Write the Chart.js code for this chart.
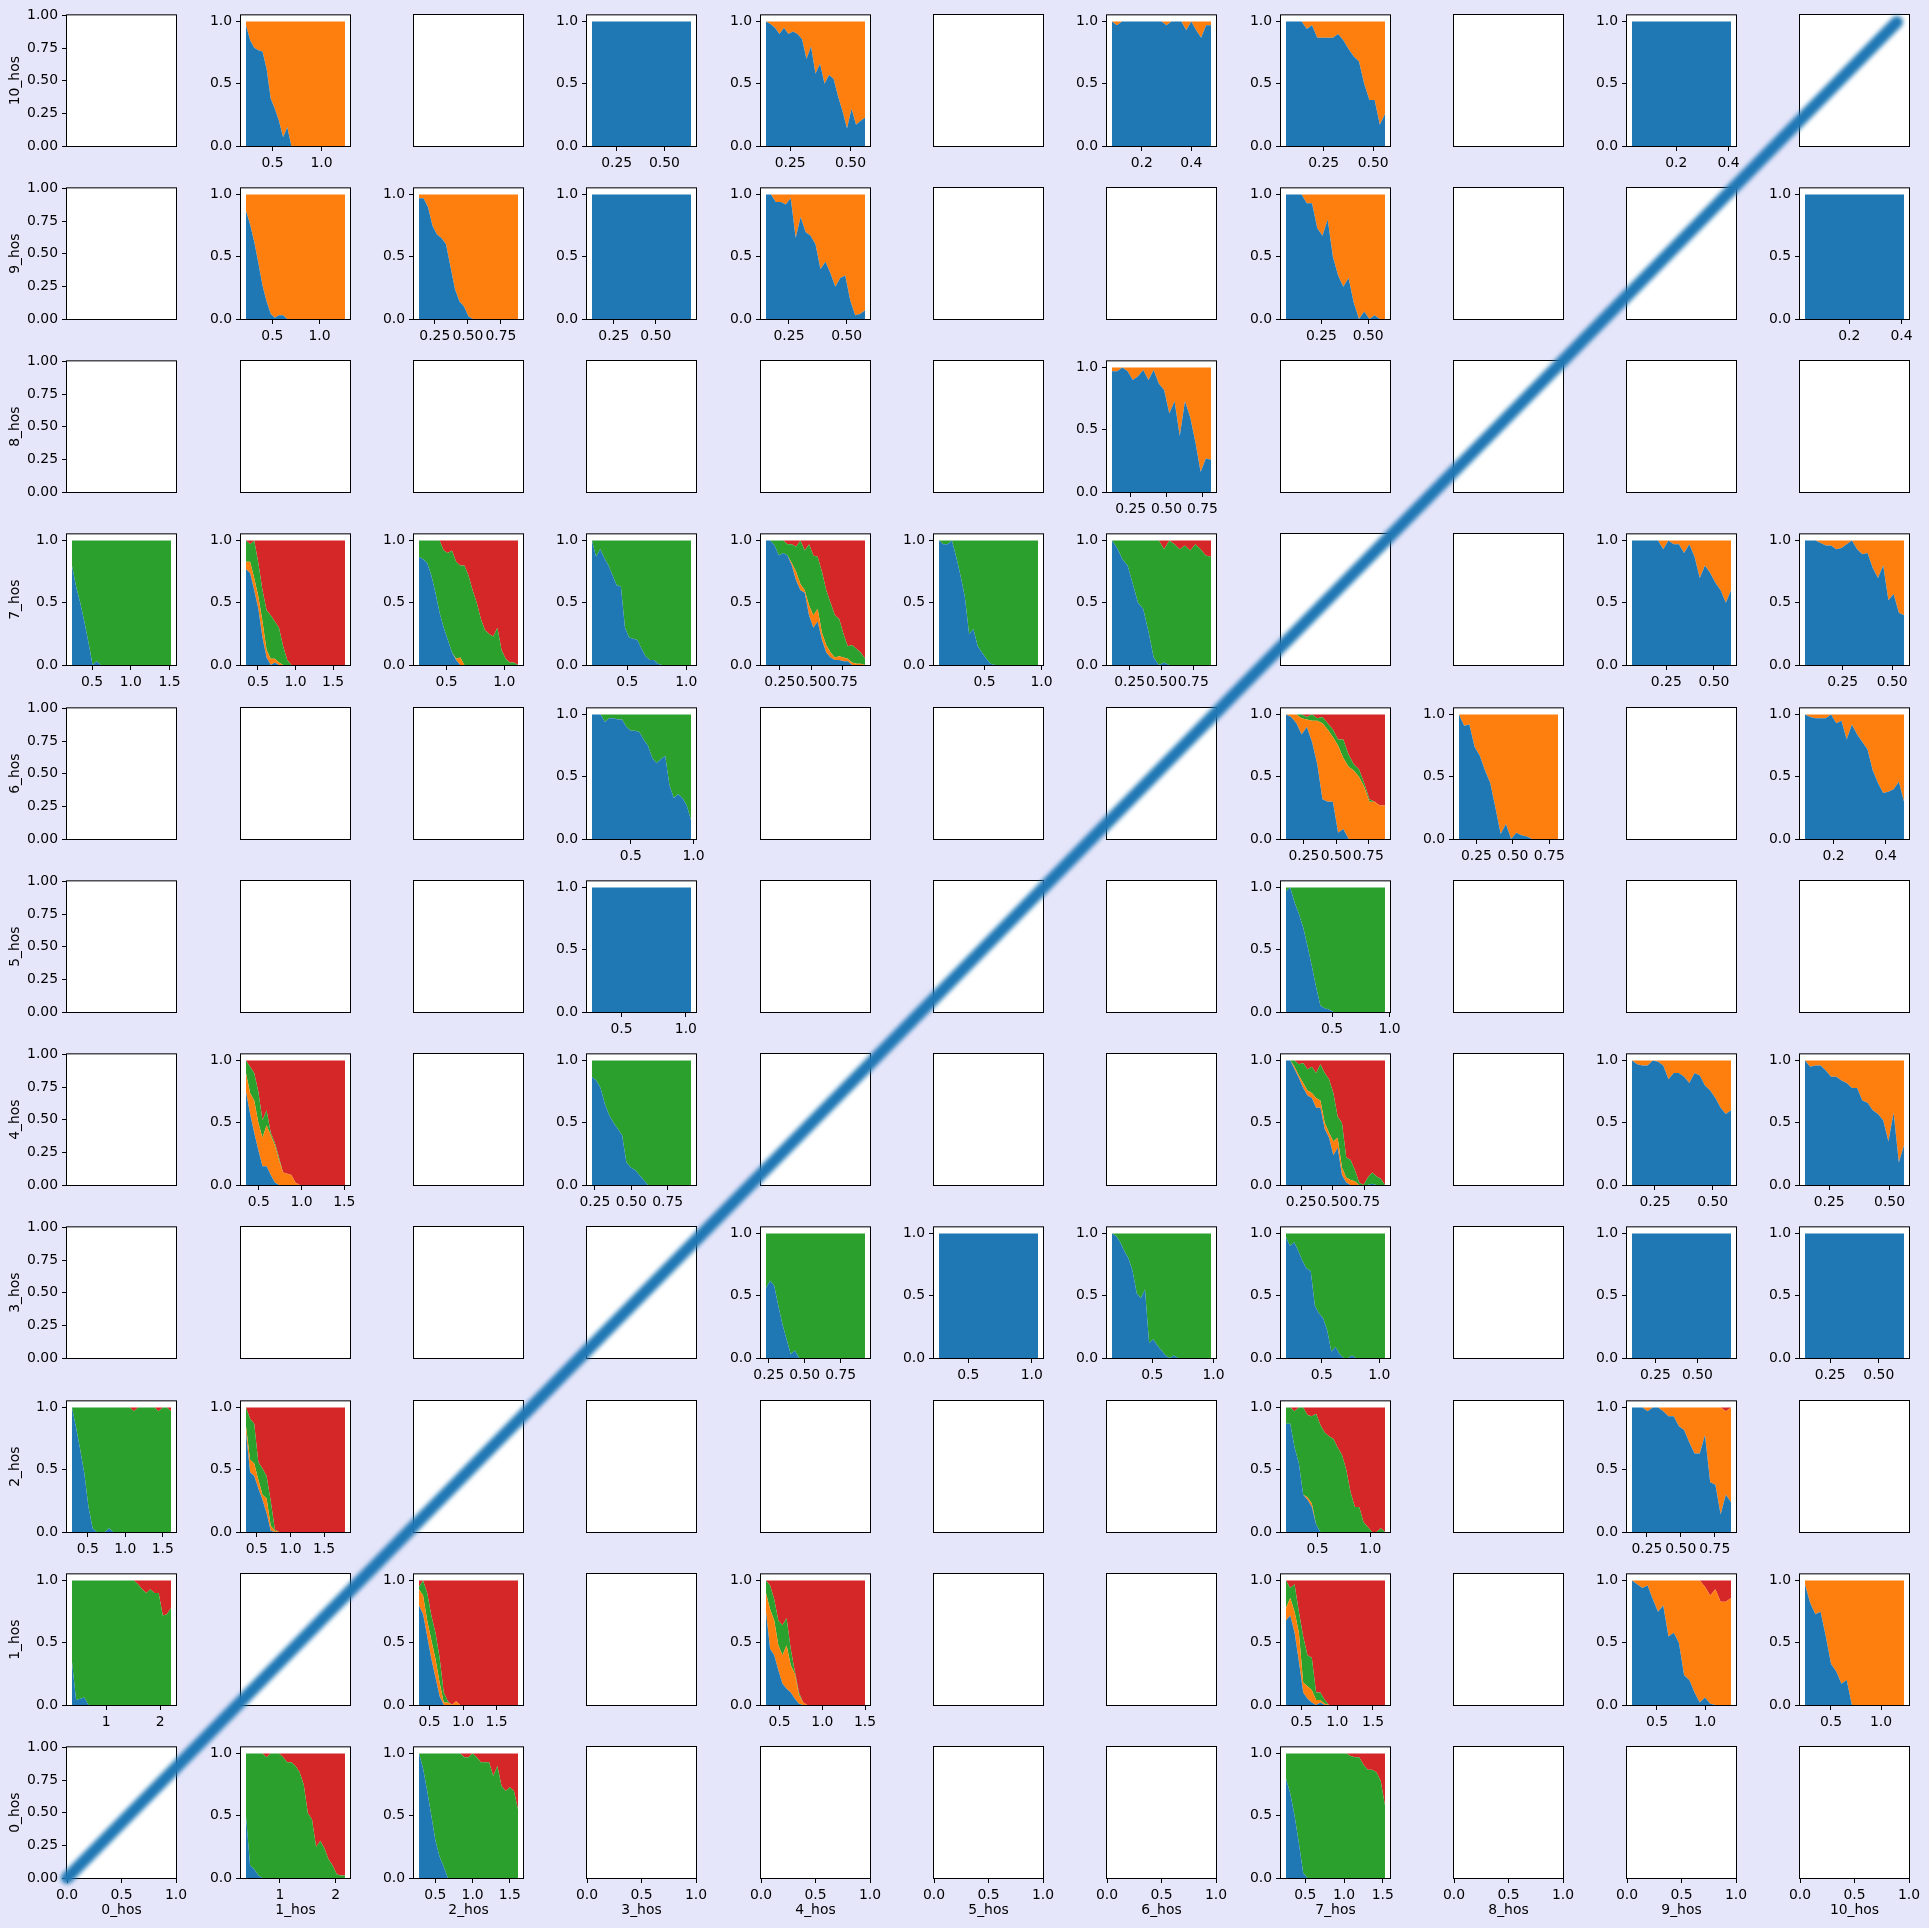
<!DOCTYPE html>
<html>
<head>
<meta charset="utf-8">
<script src="https://cdn.jsdelivr.net/npm/chart.js@4.4.1/dist/chart.umd.min.js"></script>
<style>
  html, body { margin: 0; padding: 0; background: #e6e6fa; }
  #fig { position: relative; width: 1929px; height: 1928px; overflow: hidden; background: #e6e6fa; }
  #fig canvas { position: absolute; }
  #diag { filter: blur(2px); pointer-events: none; }
</style>
</head>
<body>
<div id="fig"></div>
<script>
// tab10 C0..C3, one per class
const PALETTE = ["#1f77b4", "#ff7f0e", "#2ca02c", "#d62728"];

const rowNames = ["10_hos", "9_hos", "8_hos", "7_hos", "6_hos", "5_hos", "4_hos", "3_hos", "2_hos", "1_hos", "0_hos"];
const colNames = ["0_hos", "1_hos", "2_hos", "3_hos", "4_hos", "5_hos", "6_hos", "7_hos", "8_hos", "9_hos", "10_hos"];

// each panel: x span of the data, x tick labels, classes stacked bottom->top,
// cumulative edges (top of each class except the last, which runs up to 1)
// ---- 10_hos
const h10_1 = { span: [0.23, 1.24], ticks: ["0.5", "1.0"], layers: [0, 1],
  edges: [[0.97,0.85,0.79,0.77,0.76,0.62,0.38,0.3,0.2,0.07,0.15,0,0,0,0,0,0,0,0,0,0,0,0,0,0]] };
const h10_3 = { span: [0.12, 0.64], ticks: ["0.25", "0.50"], layers: [0],
  edges: [[1,1,1,1,1,1,1,1,1,1]] };
const h10_4 = { span: [0.15, 0.56], ticks: ["0.25", "0.50"], layers: [0, 1],
  edges: [[1,0.98,0.95,0.9,0.95,0.9,0.92,0.9,0.86,0.7,0.8,0.58,0.66,0.5,0.57,0.54,0.4,0.28,0.14,0.3,0.17,0.2,0.23]] };
const h10_6 = { span: [0.08, 0.48], ticks: ["0.2", "0.4"], layers: [0, 1],
  edges: [[1,0.97,1,1,1,1,1,1,1,1,1,0.97,1,1,1,0.93,1,0.93,0.87,0.97,0.97]] };
const h10_7 = { span: [0.06, 0.56], ticks: ["0.25", "0.50"], layers: [0, 1],
  edges: [[1,1,1,1,0.94,0.97,0.87,0.87,0.87,0.87,0.9,0.85,0.78,0.72,0.68,0.5,0.37,0.37,0.17,0.26]] };
const h10_9 = { span: [0.03, 0.41], ticks: ["0.2", "0.4"], layers: [0],
  edges: [[1,1,1,1,1,1,1,1,1,1]] };

// ---- 9_hos
const h9_1 = { span: [0.22, 1.27], ticks: ["0.5", "1.0"], layers: [0, 1],
  edges: [[0.87,0.76,0.62,0.45,0.27,0.14,0.04,0.01,0.03,0.03,0,0,0,0,0,0,0,0,0,0,0,0,0,0,0]] };
const h9_2 = { span: [0.13, 0.88], ticks: ["0.25", "0.50", "0.75"], layers: [0, 1],
  edges: [[0.97,0.97,0.9,0.75,0.68,0.65,0.6,0.42,0.24,0.14,0.1,0.02,0,0,0,0,0,0,0,0,0,0,0]] };
const h9_3 = { span: [0.12, 0.71], ticks: ["0.25", "0.50"], layers: [0],
  edges: [[1,1,1,1,1,1,1,1,1,1]] };
const h9_4 = { span: [0.15, 0.58], ticks: ["0.25", "0.50"], layers: [0, 1],
  edges: [[1,1,0.94,0.94,0.92,0.97,0.65,0.82,0.7,0.67,0.6,0.4,0.46,0.37,0.26,0.33,0.35,0.15,0.03,0.04,0.07]] };
const h9_7 = { span: [0.06, 0.59], ticks: ["0.25", "0.50"], layers: [0, 1],
  edges: [[1,1,1,1,0.93,0.93,0.73,0.67,0.8,0.5,0.35,0.26,0.33,0.13,0,0.06,0,0.03,0,0]] };
const h9_10 = { span: [0.03, 0.41], ticks: ["0.2", "0.4"], layers: [0],
  edges: [[1,1,1,1,1,1,1,1,1,1]] };

// ---- 8_hos
const h8_6 = { span: [0.12, 0.81], ticks: ["0.25", "0.50", "0.75"], layers: [0, 1],
  edges: [[0.97,0.97,1,0.97,0.9,0.93,0.98,0.9,0.98,0.87,0.82,0.63,0.73,0.45,0.73,0.6,0.4,0.16,0.27,0.26]] };

// ---- 7_hos
const h7_0 = { span: [0.24, 1.52], ticks: ["0.5", "1.0", "1.5"], layers: [0, 2],
  edges: [[0.8,0.63,0.5,0.35,0.18,0,0.03,0,0,0,0,0,0,0,0,0,0,0,0,0,0,0,0,0,0]] };
const h7_1 = { span: [0.34, 1.66], ticks: ["0.5", "1.0", "1.5"], layers: [0, 1, 2, 3],
  edges: [
    [0.77,0.74,0.6,0.45,0.22,0.06,0,0.02,0,0,0,0,0,0,0,0,0,0,0,0,0,0,0,0,0],
    [0.83,0.83,0.7,0.55,0.35,0.12,0.05,0.05,0.02,0,0,0,0,0,0,0,0,0,0,0,0,0,0,0,0],
    [1,0.97,1,0.82,0.6,0.44,0.4,0.35,0.3,0.15,0.04,0,0,0,0,0,0,0,0,0,0,0,0,0,0]] };
const h7_2 = { span: [0.26, 1.12], ticks: ["0.5", "1.0"], layers: [0, 1, 2, 3],
  edges: [
    [0.87,0.85,0.82,0.72,0.58,0.42,0.3,0.2,0.1,0.04,0,0,0,0,0,0,0,0,0,0,0,0,0,0,0],
    [0.87,0.85,0.82,0.72,0.58,0.42,0.3,0.2,0.1,0.05,0.06,0,0,0,0,0,0,0,0,0,0,0,0,0,0],
    [1,1,1,1,1,1,0.92,0.9,0.92,0.83,0.8,0.8,0.72,0.6,0.5,0.37,0.28,0.25,0.23,0.3,0.12,0.05,0.02,0.02,0]] };
const h7_3 = { span: [0.2, 1.04], ticks: ["0.5", "1.0"], layers: [0, 2],
  edges: [[1,0.87,0.93,0.86,0.8,0.72,0.64,0.63,0.3,0.22,0.21,0.2,0.13,0.07,0.04,0.04,0.01,0,0,0,0,0,0,0,0]] };
const h7_4 = { span: [0.14, 0.93], ticks: ["0.25", "0.50", "0.75"], layers: [0, 1, 2, 3],
  edges: [
    [1,1,0.96,0.88,0.9,0.88,0.8,0.68,0.6,0.58,0.4,0.3,0.35,0.2,0.1,0.06,0.04,0.04,0.03,0.03,0,0,0,0],
    [1,1,0.96,0.88,0.9,0.88,0.82,0.75,0.65,0.6,0.48,0.4,0.45,0.26,0.16,0.1,0.06,0.07,0.06,0.05,0.02,0.01,0.01,0],
    [1,1,1,1,1,0.97,0.97,0.95,1,0.92,0.97,0.88,0.87,0.75,0.6,0.5,0.4,0.37,0.25,0.15,0.16,0.13,0.1,0.05]] };
const h7_5 = { span: [0.1, 0.97], ticks: ["0.5", "1.0"], layers: [0, 2],
  edges: [[1,0.97,0.97,1,0.87,0.72,0.55,0.25,0.29,0.15,0.1,0.05,0.01,0,0,0,0,0,0,0,0,0,0,0]] };
const h7_6 = { span: [0.11, 0.89], ticks: ["0.25", "0.50", "0.75"], layers: [0, 2, 3],
  edges: [
    [1,0.94,0.85,0.8,0.65,0.5,0.45,0.27,0.06,0,0.02,0,0,0,0,0,0,0,0,0],
    [1,1,1,1,1,1,1,1,1,1,0.93,1,0.97,0.93,0.96,0.92,0.97,0.93,0.88,0.87]] };
const h7_9 = { span: [0.07, 0.59], ticks: ["0.25", "0.50"], layers: [0, 1],
  edges: [[1,1,1,1,1,1,0.93,1,0.97,0.97,0.9,0.97,0.87,0.7,0.8,0.74,0.66,0.6,0.5,0.6]] };
const h7_10 = { span: [0.06, 0.56], ticks: ["0.25", "0.50"], layers: [0, 1],
  edges: [[1,1,1,0.98,0.96,0.96,0.93,0.94,0.97,1,0.93,0.89,0.9,0.78,0.7,0.8,0.52,0.57,0.42,0.4]] };

// ---- 6_hos
const h6_3 = { span: [0.19, 0.98], ticks: ["0.5", "1.0"], layers: [0, 2],
  edges: [[1,1,1,0.94,0.97,0.97,0.96,0.96,0.9,0.87,0.87,0.86,0.8,0.75,0.65,0.61,0.64,0.67,0.43,0.33,0.36,0.33,0.27,0.15]] };
const h6_7 = { span: [0.11, 0.88], ticks: ["0.25", "0.50", "0.75"], layers: [0, 1, 2, 3],
  edges: [
    [1,0.98,0.93,0.84,0.9,0.78,0.6,0.32,0.3,0.3,0.05,0.08,0,0,0,0,0,0,0,0],
    [1,1,1,0.97,0.96,0.95,0.95,0.93,0.88,0.82,0.75,0.65,0.58,0.55,0.5,0.42,0.3,0.3,0.27,0.27],
    [1,1,1,1,0.98,1,0.97,0.98,0.93,0.88,0.8,0.8,0.68,0.6,0.56,0.45,0.32,0.3,0.27,0.27]] };
const h6_8 = { span: [0.13, 0.81], ticks: ["0.25", "0.50", "0.75"], layers: [0, 1],
  edges: [[1,0.91,0.92,0.74,0.67,0.55,0.45,0.25,0.04,0.12,0,0.05,0.03,0.02,0,0,0,0,0,0]] };
const h6_10 = { span: [0.09, 0.47], ticks: ["0.2", "0.4"], layers: [0, 1],
  edges: [[1,0.98,0.97,0.97,0.97,1,0.93,0.95,0.8,0.92,0.84,0.78,0.72,0.55,0.45,0.37,0.38,0.4,0.46,0.3]] };

// ---- 5_hos
const h5_3 = { span: [0.27, 1.04], ticks: ["0.5", "1.0"], layers: [0],
  edges: [[1,1,1,1,1,1,1,1,1,1]] };
const h5_7 = { span: [0.1, 0.96], ticks: ["0.5", "1.0"], layers: [0, 2],
  edges: [[0.97,1,0.88,0.79,0.68,0.53,0.37,0.2,0.05,0.03,0.02,0,0,0,0,0,0,0,0,0,0,0,0,0]] };

// ---- 4_hos
const h4_1 = { span: [0.35, 1.51], ticks: ["0.5", "1.0", "1.5"], layers: [0, 1, 2, 3],
  edges: [
    [0.75,0.57,0.42,0.28,0.15,0.15,0.08,0.02,0,0,0,0,0,0,0,0,0,0,0,0,0,0,0,0,0],
    [0.9,0.74,0.68,0.5,0.38,0.48,0.4,0.32,0.2,0.1,0.09,0.08,0.02,0,0,0,0,0,0,0,0,0,0,0,0],
    [1,0.95,0.9,0.75,0.52,0.6,0.42,0.34,0.22,0.1,0.09,0.08,0.02,0,0,0,0,0,0,0,0,0,0,0,0]] };
const h4_3 = { span: [0.23, 0.91], ticks: ["0.25", "0.50", "0.75"], layers: [0, 2],
  edges: [[0.87,0.84,0.78,0.65,0.56,0.5,0.45,0.4,0.18,0.14,0.12,0.08,0.04,0,0,0,0,0,0,0,0,0,0,0]] };
const h4_7 = { span: [0.13, 0.91], ticks: ["0.25", "0.50", "0.75"], layers: [0, 1, 2, 3],
  edges: [
    [1,1,0.93,0.86,0.78,0.72,0.7,0.62,0.62,0.45,0.38,0.24,0.3,0.08,0.02,0,0,0,0,0,0.01,0,0,0],
    [1,1,0.95,0.88,0.82,0.76,0.74,0.7,0.68,0.5,0.42,0.35,0.38,0.14,0.06,0.04,0.03,0,0,0,0.01,0,0,0],
    [1,1,1,0.97,0.98,0.93,0.95,0.9,0.97,0.9,0.85,0.74,0.55,0.5,0.22,0.2,0.12,0.02,0,0.06,0.1,0.07,0.05,0]] };
const h4_9 = { span: [0.15, 0.58], ticks: ["0.25", "0.50"], layers: [0, 1],
  edges: [[1,0.97,0.96,0.96,1,0.99,0.96,0.85,0.9,0.9,0.87,0.82,0.9,0.88,0.8,0.76,0.7,0.62,0.57,0.6]] };
const h4_10 = { span: [0.15, 0.56], ticks: ["0.25", "0.50"], layers: [0, 1],
  edges: [[1,0.95,0.96,0.96,0.92,0.87,0.87,0.84,0.82,0.78,0.78,0.68,0.66,0.6,0.57,0.52,0.35,0.58,0.18,0.32]] };

// ---- 3_hos
const h3_4 = { span: [0.23, 0.92], ticks: ["0.25", "0.50", "0.75"], layers: [0, 2],
  edges: [[0.56,0.62,0.58,0.42,0.27,0.15,0.03,0.06,0,0,0,0,0,0,0,0,0,0,0,0,0,0,0,0,0]] };
const h3_5 = { span: [0.27, 1.05], ticks: ["0.5", "1.0"], layers: [0],
  edges: [[1,1,1,1,1,1,1,1,1,1]] };
const h3_6 = { span: [0.17, 0.98], ticks: ["0.5", "1.0"], layers: [0, 2],
  edges: [[1,0.98,0.93,0.86,0.8,0.7,0.52,0.48,0.55,0.12,0.15,0.1,0.06,0.02,0,0.02,0,0,0,0,0,0,0,0,0]] };
const h3_7 = { span: [0.19, 1.05], ticks: ["0.5", "1.0"], layers: [0, 2],
  edges: [[0.97,0.9,0.93,0.86,0.78,0.72,0.7,0.42,0.36,0.32,0.22,0.05,0.09,0.03,0,0,0.02,0,0,0,0,0,0,0,0]] };
const h3_9 = { span: [0.11, 0.7], ticks: ["0.25", "0.50"], layers: [0],
  edges: [[1,1,1,1,1,1,1,1,1,1]] };
const h3_10 = { span: [0.12, 0.63], ticks: ["0.25", "0.50"], layers: [0],
  edges: [[1,1,1,1,1,1,1,1,1,1]] };

// ---- 2_hos
const h2_0 = { span: [0.29, 1.61], ticks: ["0.5", "1.0", "1.5"], layers: [0, 2, 3],
  edges: [
    [1,0.84,0.66,0.47,0.2,0.03,0,0,0,0.03,0,0,0,0,0,0,0,0,0,0,0,0,0,0,0],
    [1,1,1,1,1,1,1,1,1,1,1,1,1,1,1,0.97,1,1,1,1,1,0.97,1,1,0.97]] };
const h2_1 = { span: [0.34, 1.81], ticks: ["0.5", "1.0", "1.5"], layers: [0, 1, 2, 3],
  edges: [
    [0.8,0.48,0.45,0.35,0.26,0.15,0.01,0,0,0,0,0,0,0,0,0,0,0,0,0,0,0,0,0,0],
    [0.85,0.58,0.55,0.42,0.3,0.27,0.05,0.01,0,0,0,0,0,0,0,0,0,0,0,0,0,0,0,0,0],
    [1,0.91,0.87,0.56,0.51,0.45,0.25,0.02,0,0,0,0,0,0,0,0,0,0,0,0,0,0,0,0,0]] };
const h2_7 = { span: [0.2, 1.14], ticks: ["0.5", "1.0"], layers: [0, 1, 2, 3],
  edges: [
    [0.87,0.87,0.68,0.55,0.3,0.26,0.2,0.06,0,0,0,0,0,0,0,0,0,0,0,0,0,0,0,0],
    [0.87,0.87,0.68,0.55,0.3,0.28,0.23,0.06,0,0,0,0,0,0,0,0,0,0,0,0,0,0,0,0],
    [1,1,0.97,1,1,0.94,0.93,0.95,0.86,0.8,0.77,0.75,0.68,0.62,0.5,0.32,0.2,0.2,0.08,0.04,0,0,0.03,0]] };
const h2_9 = { span: [0.14, 0.87], ticks: ["0.25", "0.50", "0.75"], layers: [0, 1, 3],
  edges: [
    [1,1,1,0.97,1,1,0.97,0.93,0.93,0.85,0.82,0.72,0.63,0.63,0.78,0.4,0.38,0.14,0.3,0.24],
    [1,1,1,1,1,1,1,1,1,1,1,1,1,1,1,1,1,1,0.97,1]] };

// ---- 1_hos
const h1_0 = { span: [0.37, 2.2], ticks: ["1", "2"], layers: [0, 2, 3],
  edges: [
    [0.35,0.04,0.05,0.06,0,0,0,0,0,0,0,0,0,0,0,0,0,0,0,0,0,0,0,0,0],
    [1,1,1,1,1,1,1,1,1,1,1,1,1,1,1,1,0.97,0.93,0.9,0.93,0.9,0.9,0.72,0.73,0.78]] };
const h1_2 = { span: [0.34, 1.82], ticks: ["0.5", "1.0", "1.5"], layers: [0, 1, 2, 3],
  edges: [
    [0.8,0.73,0.55,0.37,0.22,0.07,0,0,0,0,0,0,0,0,0,0,0,0,0,0,0,0,0,0,0],
    [0.93,0.88,0.68,0.52,0.37,0.18,0.02,0.02,0,0.03,0,0,0,0,0,0,0,0,0,0,0,0,0,0,0],
    [0.95,1,0.9,0.72,0.58,0.38,0.1,0.03,0,0.03,0,0,0,0,0,0,0,0,0,0,0,0,0,0,0]] };
const h1_4 = { span: [0.34, 1.5], ticks: ["0.5", "1.0", "1.5"], layers: [0, 1, 2, 3],
  edges: [
    [0.75,0.45,0.4,0.28,0.17,0.13,0.1,0.05,0.01,0,0,0,0,0,0,0,0,0,0,0,0,0,0,0,0],
    [0.9,0.77,0.68,0.48,0.4,0.48,0.32,0.25,0.08,0.02,0,0,0,0,0,0,0,0,0,0,0,0,0,0,0],
    [1,0.96,0.85,0.68,0.64,0.7,0.45,0.27,0.1,0.02,0,0,0,0,0,0,0,0,0,0,0,0,0,0,0]] };
const h1_7 = { span: [0.28, 1.67], ticks: ["0.5", "1.0", "1.5"], layers: [0, 1, 2, 3],
  edges: [
    [0.68,0.72,0.58,0.35,0.1,0.05,0.02,0,0.02,0,0,0,0,0,0,0,0,0,0,0,0,0,0,0],
    [0.78,0.86,0.75,0.58,0.18,0.15,0.12,0.04,0.04,0.01,0,0,0,0,0,0,0,0,0,0,0,0,0,0],
    [1,0.94,0.97,0.75,0.55,0.4,0.38,0.1,0.1,0.04,0,0,0,0,0,0,0,0,0,0,0,0,0,0]] };
const h1_9 = { span: [0.24, 1.27], ticks: ["0.5", "1.0"], layers: [0, 1, 3],
  edges: [
    [1,0.97,0.94,0.96,0.85,0.75,0.8,0.55,0.58,0.5,0.24,0.2,0.1,0.02,0.06,0.01,0,0,0,0],
    [1,1,1,1,1,1,1,1,1,1,1,1,1,1,0.95,0.88,0.93,0.83,0.83,0.86]] };
const h1_10 = { span: [0.24, 1.23], ticks: ["0.5", "1.0"], layers: [0, 1],
  edges: [[0.97,0.82,0.73,0.75,0.55,0.33,0.27,0.17,0.2,0,0,0,0,0,0,0,0,0,0,0]] };

// ---- 0_hos
const h0_1 = { span: [0.39, 2.17], ticks: ["1", "2"], layers: [0, 2, 3],
  edges: [
    [0.5,0.1,0.07,0.02,0,0,0,0,0,0,0,0,0,0,0,0,0,0,0,0,0,0,0,0,0],
    [1,1,1,1,1,0.97,1,1,1,0.97,0.93,0.93,0.9,0.85,0.75,0.52,0.47,0.25,0.3,0.24,0.15,0.1,0.03,0.02,0.02]] };
const h0_2 = { span: [0.28, 1.61], ticks: ["0.5", "1.0", "1.5"], layers: [0, 2, 3],
  edges: [
    [1,0.88,0.7,0.5,0.3,0.17,0.09,0,0,0,0,0,0,0,0,0,0,0,0,0,0,0,0,0,0],
    [1,1,1,1,1,1,1,1,1,1,1,0.97,0.97,1,0.97,0.93,0.93,0.93,0.82,0.9,0.74,0.7,0.73,0.7,0.55]] };
const h0_7 = { span: [0.25, 1.53], ticks: ["0.5", "1.0", "1.5"], layers: [0, 2, 3],
  edges: [
    [0.8,0.68,0.5,0.28,0.04,0,0,0,0,0,0,0,0,0,0,0,0,0,0,0,0,0,0,0],
    [1,1,1,1,1,1,1,1,1,1,1,1,1,1,1,0.98,0.97,0.97,0.91,0.87,0.87,0.85,0.78,0.58]] };

const panels = {
  "10_1": h10_1, "10_3": h10_3, "10_4": h10_4, "10_6": h10_6, "10_7": h10_7, "10_9": h10_9,
  "9_1": h9_1, "9_2": h9_2, "9_3": h9_3, "9_4": h9_4, "9_7": h9_7, "9_10": h9_10,
  "8_6": h8_6,
  "7_0": h7_0, "7_1": h7_1, "7_2": h7_2, "7_3": h7_3, "7_4": h7_4, "7_5": h7_5, "7_6": h7_6, "7_9": h7_9, "7_10": h7_10,
  "6_3": h6_3, "6_7": h6_7, "6_8": h6_8, "6_10": h6_10,
  "5_3": h5_3, "5_7": h5_7,
  "4_1": h4_1, "4_3": h4_3, "4_7": h4_7, "4_9": h4_9, "4_10": h4_10,
  "3_4": h3_4, "3_5": h3_5, "3_6": h3_6, "3_7": h3_7, "3_9": h3_9, "3_10": h3_10,
  "2_0": h2_0, "2_1": h2_1, "2_7": h2_7, "2_9": h2_9,
  "1_0": h1_0, "1_2": h1_2, "1_4": h1_4, "1_7": h1_7, "1_9": h1_9, "1_10": h1_10,
  "0_1": h0_1, "0_2": h0_2, "0_7": h0_7
};

// ---------------------------------------------------------------- layout
const FIG_W = 1929, FIG_H = 1928;
const BOX_W = 109, BOX_H = 131;
const FONT = { family: "'DejaVu Sans', sans-serif", size: 13.9 };
const fig = document.getElementById("fig");

function boxLeft(c) { return Math.round(67.4 + 173.3 * c); }
function boxTop(i) { return Math.round(14.5 + 173.25 * i); }

// white axes face + black spines
const framePlugin = {
  id: "frame",
  beforeDraw(chart) {
    const { ctx, chartArea: a } = chart;
    ctx.save();
    ctx.fillStyle = "#fff";
    ctx.fillRect(a.left, a.top, a.right - a.left, a.bottom - a.top);
    ctx.restore();
  },
  afterDatasetsDraw(chart) {
    const { ctx, chartArea: a } = chart;
    ctx.save();
    ctx.strokeStyle = "#000";
    ctx.lineWidth = 1;
    ctx.strokeRect(a.left - 0.5, a.top - 0.5, a.right - a.left + 1, a.bottom - a.top + 1);
    ctx.restore();
  }
};

function axis(min, max, labels, size, horizontal, title) {
  const show = labels.length > 0;
  return {
    type: "linear", display: true, min, max,
    afterBuildTicks: (s) => { s.ticks = labels.map(t => ({ value: parseFloat(t) })); },
    afterFit: (s) => { if (horizontal) s.height = size; else s.width = size; },
    ticks: {
      display: show, autoSkip: false, maxRotation: 0, minRotation: 0,
      callback: (v, k) => labels[k], font: FONT, color: "#000", padding: 4
    },
    grid: { display: show, drawOnChartArea: false, drawTicks: true, tickLength: 5, color: "#000", lineWidth: 1 },
    border: { display: false },
    title: {
      display: !!title, text: title || "", font: FONT, color: "#000",
      padding: horizontal ? { top: 0, bottom: 9 } : { top: 7, bottom: 0 }
    }
  };
}

function datasetsFor(p) {
  if (!p) return [];
  const [x0, x1] = p.span;
  const pts = (arr) => arr.map((y, k) => ({ x: x0 + (x1 - x0) * k / (arr.length - 1), y }));
  const out = p.edges.map((e, k) => ({
    data: pts(e), fill: k === 0 ? "origin" : "-1", backgroundColor: PALETTE[p.layers[k]]
  }));
  if (p.layers.length > p.edges.length) {
    const last = p.edges[p.edges.length - 1];
    out.push({ data: pts(last), fill: { value: 1 }, backgroundColor: PALETTE[p.layers[p.layers.length - 1]] });
  }
  return out.map(d => ({ ...d, borderColor: d.backgroundColor, borderWidth: 0, pointRadius: 0, tension: 0 }));
}

function makePanel(row, col, p) {
  const i = 10 - row;
  const L = boxLeft(col), T = boxTop(i);
  const isLeft = col === 0, isBottom = row === 0;
  const padL = isLeft ? L : 64;
  const padT = 12, padR = 20;
  const padB = isBottom ? FIG_H - (T + BOX_H) : 40;
  const w = BOX_W + padL + padR, h = BOX_H + padT + padB;

  const cv = document.createElement("canvas");
  cv.width = w; cv.height = h;
  cv.style.left = (L - padL) + "px";
  cv.style.top = (T - padT) + "px";
  cv.style.width = w + "px";
  cv.style.height = h + "px";
  fig.appendChild(cv);

  let xs;
  if (p) {
    const r = p.span[1] - p.span[0];
    xs = axis(p.span[0] - 0.05 * r, p.span[1] + 0.05 * r, p.ticks, padB, true, isBottom ? colNames[col] : null);
  } else {
    xs = axis(0, 1, isBottom ? ["0.0", "0.5", "1.0"] : [], padB, true, isBottom ? colNames[col] : null);
  }
  let ys;
  if (p) ys = axis(0, 1.05, ["0.0", "0.5", "1.0"], padL, false, isLeft ? rowNames[i] : null);
  else ys = axis(0, 1, isLeft ? ["0.00", "0.25", "0.50", "0.75", "1.00"] : [], padL, false, isLeft ? rowNames[i] : null);

  new Chart(cv, {
    type: "line",
    data: { datasets: datasetsFor(p) },
    options: {
      animation: false, responsive: false, devicePixelRatio: 1, events: [],
      layout: { padding: { top: padT, right: padR, left: 0, bottom: 0 }, autoPadding: false },
      plugins: { legend: { display: false }, tooltip: { enabled: false } },
      scales: { x: xs, y: ys }
    },
    plugins: [framePlugin]
  });
}

for (let row = 10; row >= 0; row--) {
  for (let col = 0; col <= 10; col++) {
    makePanel(row, col, panels[`${row}_${col}`]);
  }
}

// the thick blurred diagonal running across the whole grid
const diagStart = [67, 1878], diagEnd = [1897, 22];
const dc = document.createElement("canvas");
dc.id = "diag";
dc.width = FIG_W; dc.height = FIG_H;
dc.style.left = "0px"; dc.style.top = "0px";
dc.style.width = FIG_W + "px"; dc.style.height = FIG_H + "px";
fig.appendChild(dc);
new Chart(dc, {
  type: "line",
  data: { datasets: [{
    data: [{ x: 0, y: 0 }, { x: 1, y: 1 }],
    borderColor: PALETTE[0], borderWidth: 12, borderCapStyle: "round",
    pointRadius: 0, fill: false, clip: false
  }] },
  options: {
    animation: false, responsive: false, devicePixelRatio: 1, events: [],
    layout: { autoPadding: false, padding: {
      left: diagStart[0], bottom: FIG_H - diagStart[1], right: FIG_W - diagEnd[0], top: diagEnd[1] } },
    plugins: { legend: { display: false }, tooltip: { enabled: false } },
    scales: {
      x: { type: "linear", min: 0, max: 1, display: false },
      y: { type: "linear", min: 0, max: 1, display: false }
    }
  }
});
</script>
</body>
</html>
